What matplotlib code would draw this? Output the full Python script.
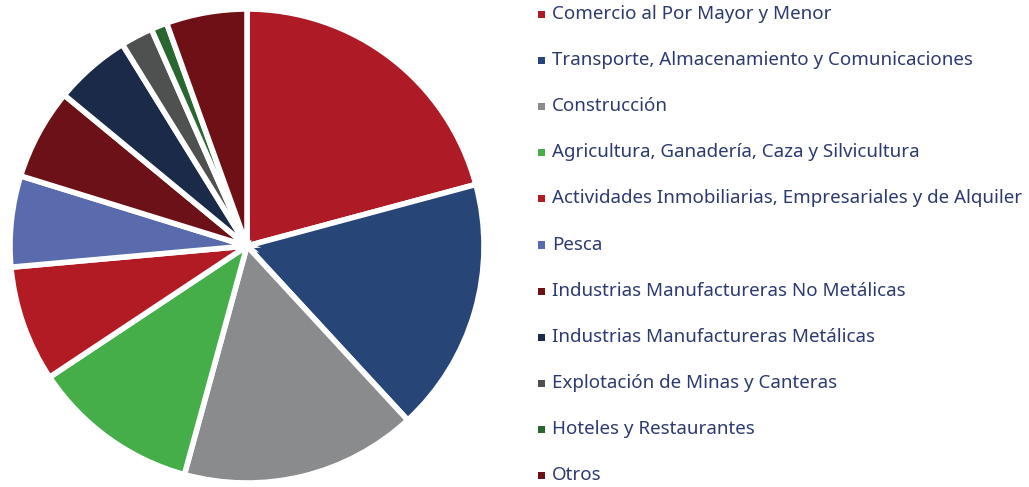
import matplotlib
matplotlib.use("Agg")
import matplotlib.pyplot as plt
from matplotlib.patches import Rectangle

# --- data (percent share) ---
sectors = [
    "Comercio al Por Mayor y Menor",
    "Transporte, Almacenamiento y Comunicaciones",
    "Construcción",
    "Agricultura, Ganadería, Caza y Silvicultura",
    "Actividades Inmobiliarias, Empresariales y de Alquiler",
    "Pesca",
    "Industrias Manufactureras No Metálicas",
    "Industrias Manufactureras Metálicas",
    "Explotación de Minas y Canteras",
    "Hoteles y Restaurantes",
    "Otros",
]
shares = [20.8, 17.3, 16.1, 11.4, 7.9, 6.2, 6.2, 5.2, 2.2, 1.1, 5.5]
colors = ["#AE1A25", "#274576", "#8A8B8D", "#45AE49", "#B31B24", "#5A6BAD",
          "#6C1118", "#1A2A48", "#4F5150", "#2A6630", "#6E1016"]

W, H = 1029, 487
fig = plt.figure(figsize=(W / 100, H / 100), dpi=100)

# pie: center ~ (247, 246) px, radius ~ 237 px
cx, cy, r = 247, 246, 237
ax = fig.add_axes([(cx - r) / W, (H - cy - r) / H, 2 * r / W, 2 * r / H])
ax.pie(shares, colors=colors, startangle=90, counterclock=False, radius=1,
       wedgeprops=dict(edgecolor="white", linewidth=4))
ax.set_xlim(-1, 1)
ax.set_ylim(-1, 1)
ax.set_aspect("equal")
ax.axis("off")

# legend drawn by hand to match the row spacing
text_color = "#2D3A70"
x_sq, x_txt = 538, 552
y0, dy = 14, 46.1
for i, (lab, col) in enumerate(zip(sectors, colors)):
    y = y0 + i * dy
    fig.add_artist(Rectangle(((x_sq) / W, 1 - (y + 4) / H), 7 / W, 7 / H,
                             transform=fig.transFigure, color=col, lw=0))
    fig.text(x_txt / W, 1 - y / H, lab, ha="left", va="center",
             fontsize=13.5, color=text_color, family="Noto Sans")

fig.savefig("out.png", dpi=100)
